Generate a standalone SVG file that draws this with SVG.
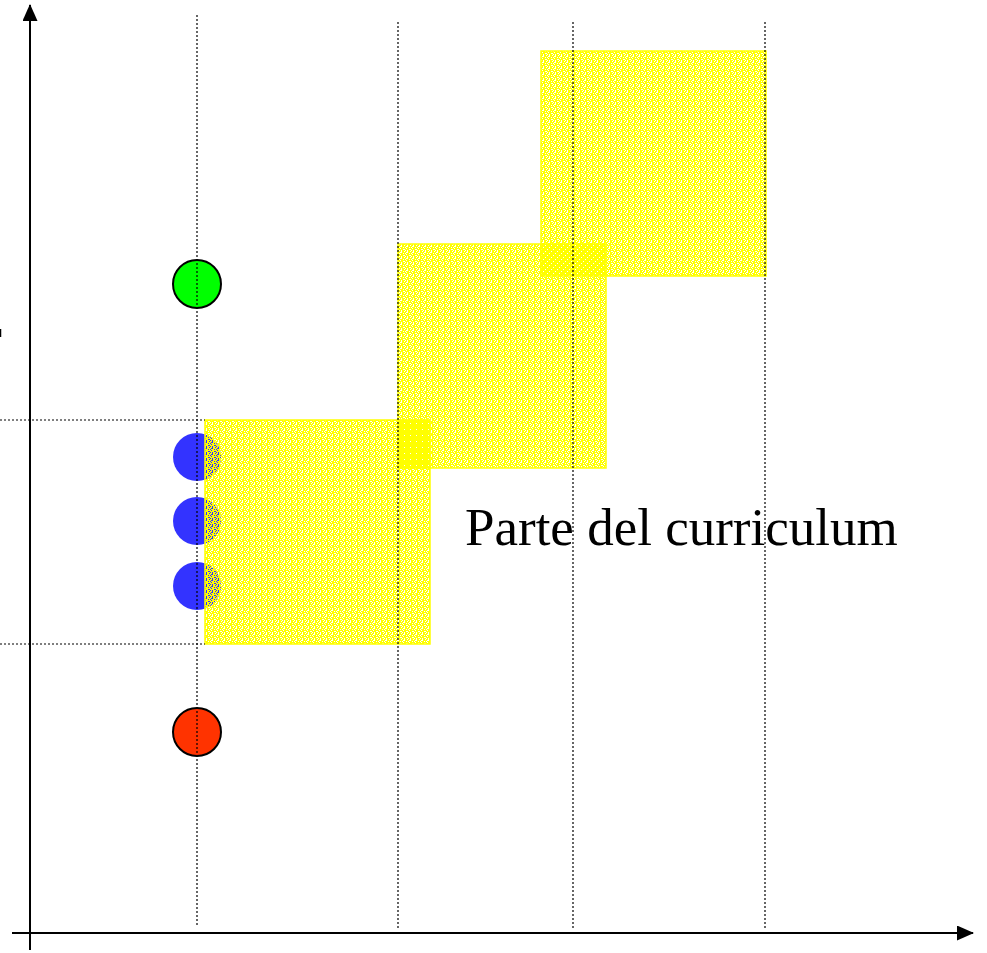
<svg xmlns="http://www.w3.org/2000/svg" width="987" height="953" viewBox="0 0 987 953">
<style>
.axis{stroke:#000;stroke-width:2;fill:none}
.dot{stroke:#000;stroke-width:1.2;stroke-dasharray:2 2;fill:none}
.blk{stroke:#ffff00;stroke-width:1.5}
.lbl{font-family:"Liberation Serif","Times New Roman",serif;font-size:53px;fill:#000}
</style>
<defs>
<path id="tex" fill="#ffff00" fill-rule="evenodd" d="M0 0h6v6h-6z M1 0h1v1h-1z M4 1h2v1h-2z M0 2h1v1h-1z M2 2h1v2h-1z M5 3h1v1h-1z M1 4h2v1h-2z M4 5h1v1h-1z M0 5h1v1h-1z"/>
<pattern id="yel" patternUnits="userSpaceOnUse" width="6" height="6"><use href="#tex"/></pattern>
<pattern id="yel2" patternUnits="userSpaceOnUse" x="3" y="2" width="6" height="6"><use href="#tex"/></pattern>
<pattern id="yel3" patternUnits="userSpaceOnUse" x="1" y="4" width="6" height="6"><use href="#tex"/></pattern>
<marker id="arr" markerWidth="17" markerHeight="15" refX="16" refY="7.5" orient="auto" markerUnits="userSpaceOnUse" viewBox="0 0 17 15">
<path d="M0 0L17 7.5L0 15z" fill="#000"/>
</marker>
</defs>
<rect width="987" height="953" fill="#fff"/>
<g id="blue-circles">
<circle cx="197" cy="457" r="24" fill="#3333ff"/>
<circle cx="197" cy="521" r="24" fill="#3333ff"/>
<circle cx="197" cy="586" r="24" fill="#3333ff"/>
</g>
<g id="blocks">
<rect id="block1" class="blk" fill="url(#yel)" x="205" y="420" width="225" height="224"/>
<rect id="block2" class="blk" fill="url(#yel2)" x="398" y="244" width="208" height="224"/>
<rect id="block3" class="blk" fill="url(#yel3)" x="541" y="51" width="225" height="225"/>
</g>
<g id="green"><circle cx="197" cy="284" r="24" fill="#00ff00" stroke="#000" stroke-width="2"/></g>
<g id="red"><circle cx="197" cy="732" r="24" fill="#ff3300" stroke="#000" stroke-width="2"/></g>
<g id="grid">
<line class="dot" x1="197" y1="15" x2="197" y2="926"/>
<line class="dot" x1="398" y1="22" x2="398" y2="930"/>
<line class="dot" x1="573" y1="22" x2="573" y2="930"/>
<line class="dot" x1="765" y1="22" x2="765" y2="930"/>
<line class="dot" x1="0" y1="420" x2="205" y2="420"/>
<line class="dot" x1="0" y1="644" x2="205" y2="644"/>
</g>
<g id="axes">
<line class="axis" x1="30" y1="950" x2="30" y2="5" marker-end="url(#arr)"/>
<line class="axis" x1="12" y1="933" x2="973" y2="933" marker-end="url(#arr)"/>
<line x1="0.5" y1="329" x2="0.5" y2="337" stroke="#000" stroke-width="1.5"/>
</g>
<g id="label"><text class="lbl" x="465" y="545">Parte del curriculum</text></g>
</svg>
